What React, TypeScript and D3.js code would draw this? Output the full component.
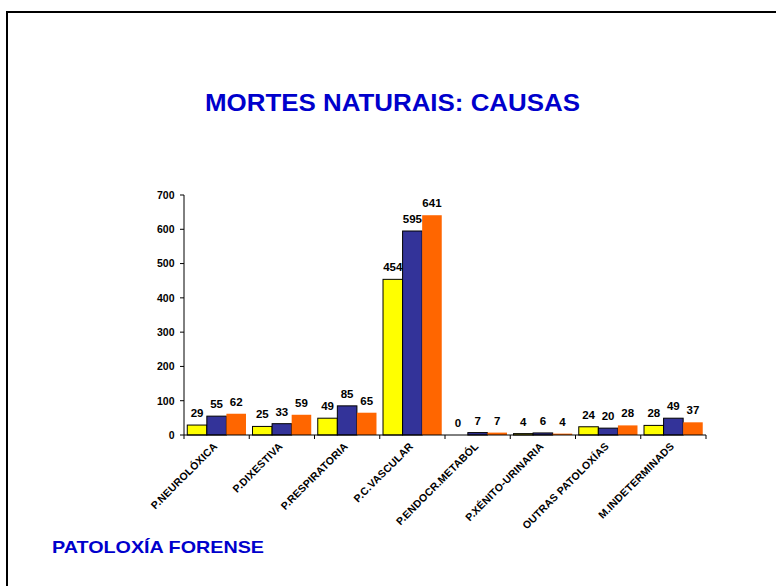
import React from "react";
import * as d3 from "d3";

const categories = [
  "P.NEUROLÓXICA",
  "P.DIXESTIVA",
  "P.RESPIRATORIA",
  "P.C.VASCULAR",
  "P.ENDOCR.METABÓL",
  "P.XÉNITO-URINARIA",
  "OUTRAS PATOLOXÍAS",
  "M.INDETERMINADS",
];
const seriesA = [29, 25, 49, 454, 0, 4, 24, 28];
const seriesB = [55, 33, 85, 595, 7, 6, 20, 49];
const seriesC = [62, 59, 65, 641, 7, 4, 28, 37];
const yTicks = [0, 100, 200, 300, 400, 500, 600, 700];
const seriesColors = ["#FFFF00", "#333399", "#FF6600"];
const seriesStroke = ["#000000", "#000000", "none"];

export default function App() {
  const W = 776;
  const H = 586;
  const x0 = 184;
  const x1 = 706;
  const yBottom = 435;
  const yTop = 195;
  const font = "Arial, 'Liberation Sans', sans-serif";

  const x = d3
    .scaleBand<string>()
    .domain(categories)
    .range([x0, x1])
    .paddingInner(0.1)
    .paddingOuter(0.05);
  const xs = d3.scaleBand<number>().domain([0, 1, 2]).range([0, x.bandwidth()]);
  const y = d3.scaleLinear().domain([0, 700]).range([yBottom, yTop]);
  const step = x.step();
  const series = [seriesA, seriesB, seriesC];
  const boundaries = categories.map((c) => (x(c) as number) - step * 0.05);
  boundaries.push(x1);

  return (
    <svg
      width={W}
      height={H}
      style={{ position: "absolute", left: 0, top: 0, background: "#fff" }}
    >
      <rect x={0} y={0} width={W} height={H} fill="#fff" />
      <rect x={7} y={12} width={900} height={900} fill="none" stroke="#000" strokeWidth={2} />
      <text
        x={392.5}
        y={111}
        textAnchor="middle"
        fontFamily={font}
        fontWeight="bold"
        fontSize={24}
        fill="#0000CC"
        textLength={375}
        lengthAdjust="spacingAndGlyphs"
      >
        MORTES NATURAIS: CAUSAS
      </text>
      <text
        x={52}
        y={553}
        fontFamily={font}
        fontWeight="bold"
        fontSize={17}
        fill="#0000CC"
        textLength={212}
        lengthAdjust="spacingAndGlyphs"
      >
        PATOLOXÍA FORENSE
      </text>

      {/* bars */}
      {categories.map((c, i) => (
        <g key={c}>
          {series.map((s, k) => {
            const bx = (x(c) as number) + (xs(k) as number);
            const by = y(s[i]);
            return (
              <rect
                key={k}
                x={bx}
                y={by}
                width={xs.bandwidth()}
                height={yBottom - by}
                fill={seriesColors[k]}
                stroke={seriesStroke[k]}
                strokeWidth={1}
              />
            );
          })}
          {series.map((s, k) => {
            const bx = (x(c) as number) + (xs(k) as number) + xs.bandwidth() / 2;
            return (
              <text
                key={"l" + k}
                x={bx}
                y={y(s[i]) - 8}
                textAnchor="middle"
                fontFamily={font}
                fontWeight="bold"
                fontSize={11.5}
                fill="#000"
              >
                {s[i]}
              </text>
            );
          })}
          <text
            transform={`translate(${(x(c) as number) + x.bandwidth() / 2 + 1.5},${yBottom + 12}) rotate(-45)`}
            textAnchor="end"
            fontFamily={font}
            fontWeight="bold"
            fontSize={10.5}
            letterSpacing={0.2}
            fill="#000"
          >
            {c}
          </text>
        </g>
      ))}

      {/* y axis */}
      <line x1={x0} x2={x0} y1={yBottom} y2={yTop} stroke="#000" strokeWidth={1} />
      {yTicks.map((t) => (
        <g key={t}>
          <line x1={x0 - 4} x2={x0} y1={y(t)} y2={y(t)} stroke="#000" />
          <text
            x={174.5}
            y={y(t) + 3.8}
            textAnchor="end"
            fontFamily={font}
            fontWeight="bold"
            fontSize={10.5}
            fill="#000"
          >
            {t}
          </text>
        </g>
      ))}

      {/* x axis */}
      <line x1={x0} x2={x1} y1={yBottom} y2={yBottom} stroke="#000" strokeWidth={1} />
      {boundaries.map((b, i) => (
        <line key={i} x1={b} x2={b} y1={yBottom} y2={yBottom + 4} stroke="#000" />
      ))}
    </svg>
  );
}
